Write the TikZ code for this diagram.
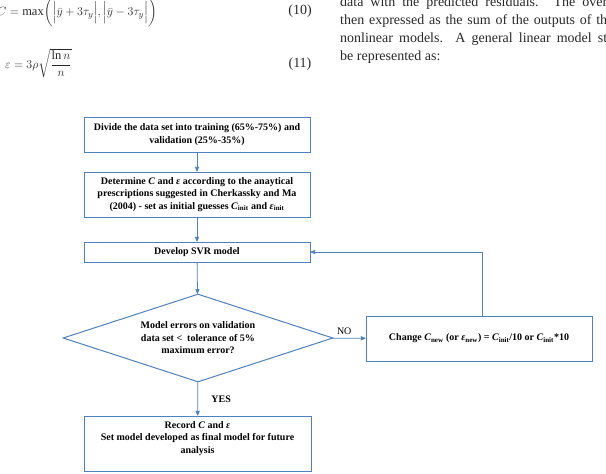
\documentclass[tikz,border=0pt]{standalone}
\usepackage{fontspec}
\setmainfont{Liberation Serif}
\usepackage{amsmath}
\usetikzlibrary{arrows,shapes.geometric}
\definecolor{flowblue}{RGB}{79,129,189}
\definecolor{inkgray}{RGB}{40,40,40}
\tikzset{
	stepbox/.style={
			draw=flowblue, line width=1pt, fill=white, text=black,
			minimum width=226pt, align=center, inner sep=2pt,
			font=\bfseries\fontsize{10}{12.5}\selectfont
		},
	decision/.style={
			diamond, draw=flowblue, line width=1pt, fill=white, text=black,
			shape aspect=3.07, minimum width=270pt, minimum height=88pt,
			align=center, inner sep=1pt,
			font=\bfseries\fontsize{10}{12.5}\selectfont
		},
	flow/.style={->, >=stealth', draw=flowblue, line width=0.8pt},
	paper/.style={anchor=base west, inner sep=0pt, text=inkgray,
			font=\fontsize{14}{18}\selectfont},
	eqnum/.style={anchor=base, inner sep=0pt, text=inkgray,
			font=\fontsize{14}{18}\selectfont},
	formula/.style={anchor=west, inner sep=0pt, text=inkgray,
			font=\fontsize{12.5}{15}\selectfont}
}
\newcommand{\fullline}[1]{\makebox[267pt][s]{#1}}

\begin{document}
\begin{tikzpicture}[x=1pt, y=-1pt]
	\useasboundingbox (0,0) rectangle (606,474);
	\clip (0,0) rectangle (606,474);

	% page text round the figure
	\node[formula] (eqC) at (-3,12.5)
		{$C=\max\biggl(\Bigl|\bar{y}+3\tau_y\Bigr|,\Bigl|\bar{y}-3\tau_y\Bigr|\biggr)$};
	\node[formula] (eqE) at (5,63)
		{$\varepsilon=3\rho\sqrt{\dfrac{\ln n}{n}}$};
	\node[eqnum] (num10) at (300,14) {(10)};
	\node[eqnum] (num11) at (300,67.5) {(11)};

	\node[paper] (line1) at (340,6.5) {\fullline{data with the predicted residuals. The over}};
	\node[paper] (line2) at (340,24.5) {\fullline{then expressed as the sum of the outputs of th}};
	\node[paper] (line3) at (340,42.5) {\fullline{nonlinear models. A general linear model st}};
	\node[paper] (line4) at (340,60.5) {be represented as:};

	% flowchart
	\node[stepbox, minimum height=35pt] (split) at (197,134.5)
		{Divide the data set into training (65\%-75\%) and\\validation (25\%-35\%)};
	\node[stepbox, minimum height=45pt] (guess) at (197,194.5)
		{Determine \textit{C} and \textit{ε} according to the anaytical\\prescriptions suggested in Cherkassky and Ma\\(2004) - set as initial guesses \textit{C}\textsubscript{init} and \textit{ε}\textsubscript{init}};
	\node[stepbox, minimum height=20pt] (svr) at (197,252) {Develop SVR model};
	\node[decision] (check) at (198,338)
		{Model errors on validation\\data set <\ \ tolerance of 5\%\\maximum error?};
	\node[stepbox, minimum height=45pt] (change) at (479,338.5)
		{Change \textit{C}\textsubscript{new} (or \textit{ε}\textsubscript{new}) = \textit{C}\textsubscript{init}/10 or \textit{C}\textsubscript{init}*10};
	\node[stepbox, minimum height=55pt, minimum width=227pt] (record) at (197.5,443.5)
		{Record \textit{C} and \textit{ε}\\Set model developed as final model for future\\analysis\\\mbox{}};

	\draw[flow] (split) -- (guess);
	\draw[flow] (guess) -- (svr);
	\draw[flow] (svr) -- (check);
	\draw[flow] (check) -- (record) node[midway, right=10pt, font=\bfseries\fontsize{10}{12}\selectfont] {YES};
	\draw[flow] (check) -- (change) node[pos=0.35, above, font=\fontsize{10}{12}\selectfont] {NO};
	\draw[flow] ([xshift=3pt]change.north) |- (svr.east);
\end{tikzpicture}
\end{document}
